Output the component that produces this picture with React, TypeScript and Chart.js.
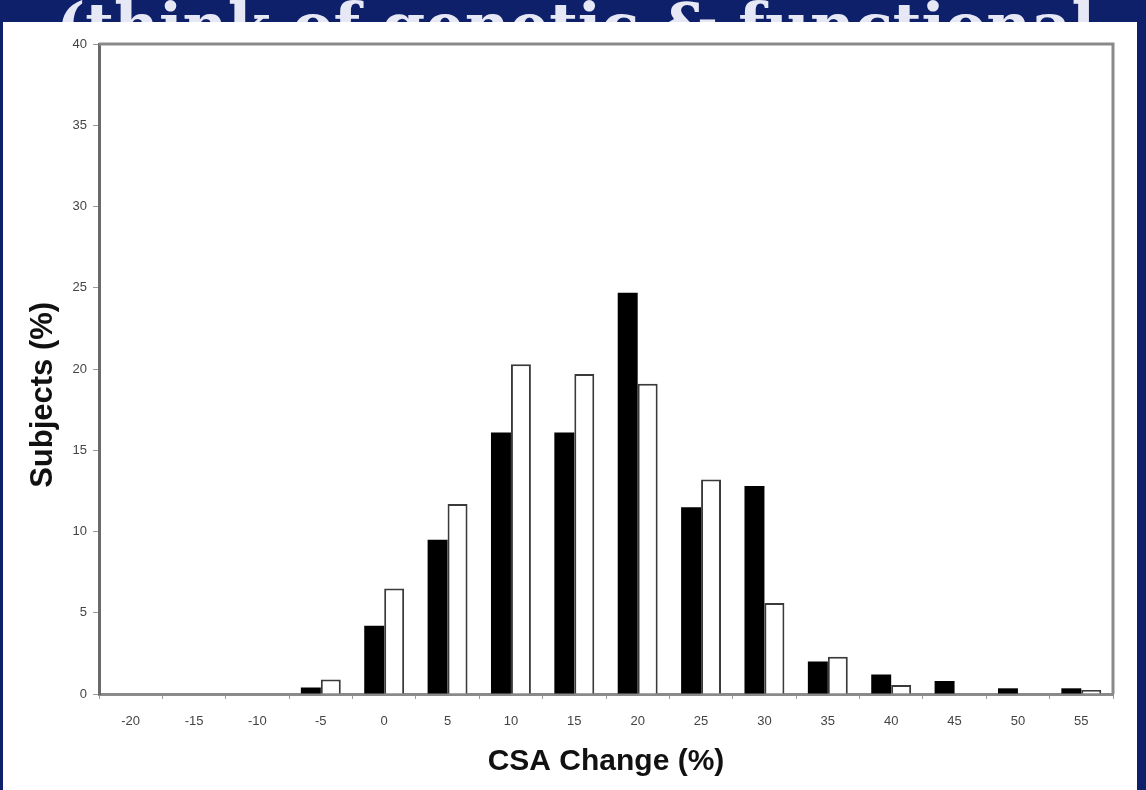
import React, { useEffect, useRef } from 'react'
import Chart, { ChartConfiguration, Plugin } from 'chart.js/auto'

// CSA change bins (%), one bar pair per bin
const bins = ['-20', '-15', '-10', '-5', '0', '5', '10', '15', '20', '25', '30', '35', '40', '45', '50', '55']
const blackSeries = [0, 0, 0, 0.4, 4.2, 9.5, 16.1, 16.1, 24.7, 11.5, 12.8, 2.0, 1.2, 0.8, 0.35, 0.35]
const whiteSeries = [0, 0, 0, 0.9, 6.5, 11.7, 20.3, 19.7, 19.1, 13.2, 5.6, 2.3, 0.55, 0, 0, 0.25]
const yMax = 40
const yStep = 5

const frame: Plugin<'bar'> = {
  id: 'frame',
  afterDraw(chart) {
    const { ctx, chartArea } = chart
    ctx.save()
    ctx.strokeStyle = '#8a8a8a'
    ctx.lineWidth = 3
    ctx.beginPath()
    ctx.moveTo(chartArea.left, chartArea.top)
    ctx.lineTo(chartArea.right, chartArea.top)
    ctx.lineTo(chartArea.right, chartArea.bottom)
    ctx.stroke()
    ctx.restore()
  }
}

const HistogramChart: React.FC = () => {
  const chartRef = useRef<HTMLCanvasElement | null>(null)

  useEffect(() => {
    if (!chartRef.current) return
    const tickFont = { family: 'Liberation Sans, Arial, sans-serif', size: 13 }

    const config: ChartConfiguration<'bar'> = {
      type: 'bar',
      data: {
        labels: bins,
        datasets: [
          {
            label: 'A',
            data: blackSeries,
            backgroundColor: '#000000',
            borderWidth: 0
          },
          {
            label: 'B',
            data: whiteSeries,
            backgroundColor: '#ffffff',
            borderColor: '#3a3a3a',
            borderWidth: 2
          }
        ]
      },
      options: {
        animation: false,
        responsive: true,
        maintainAspectRatio: false,
        categoryPercentage: 0.63,
        barPercentage: 1,
        layout: { padding: { left: 25, top: 44, right: 33, bottom: 10 } },
        plugins: {
          legend: { display: false },
          tooltip: { enabled: false }
        },
        scales: {
          x: {
            grid: {
              drawOnChartArea: false,
              drawTicks: true,
              tickLength: 5,
              tickColor: '#9a9a9a',
              offset: true
            },
            border: { display: true, color: '#8a8a8a', width: 3 },
            ticks: { color: '#444', font: tickFont, padding: 15, maxRotation: 0 },
            title: {
              display: true,
              text: 'CSA Change (%)',
              color: '#111',
              padding: 0,
              font: { family: 'Liberation Sans, Arial, sans-serif', size: 30, weight: 'bold' }
            },
            afterFit(scale) {
              scale.height = 86
            }
          },
          y: {
            min: 0,
            max: yMax,
            grid: {
              drawOnChartArea: false,
              drawTicks: true,
              tickLength: 6,
              tickColor: '#9a9a9a'
            },
            border: { display: true, color: '#6a6a6a', width: 3 },
            ticks: { stepSize: yStep, color: '#444', font: tickFont, padding: 6 },
            title: {
              display: true,
              // trailing spaces push the rotated title down, as in the original
              text: 'Subjects (%)\u00a0\u00a0\u00a0\u00a0\u00a0\u00a0',
              color: '#111',
              padding: 0,
              font: { family: 'Liberation Sans, Arial, sans-serif', size: 31, weight: 'bold' }
            },
            afterFit(scale) {
              scale.width = 74
            }
          }
        }
      },
      plugins: [frame]
    }

    const chart = new Chart(chartRef.current, config)
    return () => chart.destroy()
  }, [])

  return <canvas ref={chartRef} />
}

export default function App() {
  return (
    <div
      style={{
        position: 'fixed',
        left: 0,
        top: 0,
        width: 1146,
        height: 790,
        background: '#0e206a',
        overflow: 'hidden'
      }}
    >
      <div
        style={{
          position: 'absolute',
          left: 56,
          top: -5,
          whiteSpace: 'nowrap',
          color: '#e6e8f6',
          fontFamily: 'DejaVu Serif, serif',
          fontWeight: 'bold',
          fontSize: 62,
          lineHeight: 1
        }}
      >
        (think of genetic &amp; functional
      </div>
      <div
        style={{
          position: 'absolute',
          left: 3,
          top: 22,
          width: 1134,
          height: 768,
          background: '#ffffff'
        }}
      />
      <div style={{ position: 'absolute', left: 0, top: 0, width: 1146, height: 790 }}>
        <HistogramChart />
      </div>
    </div>
  )
}
